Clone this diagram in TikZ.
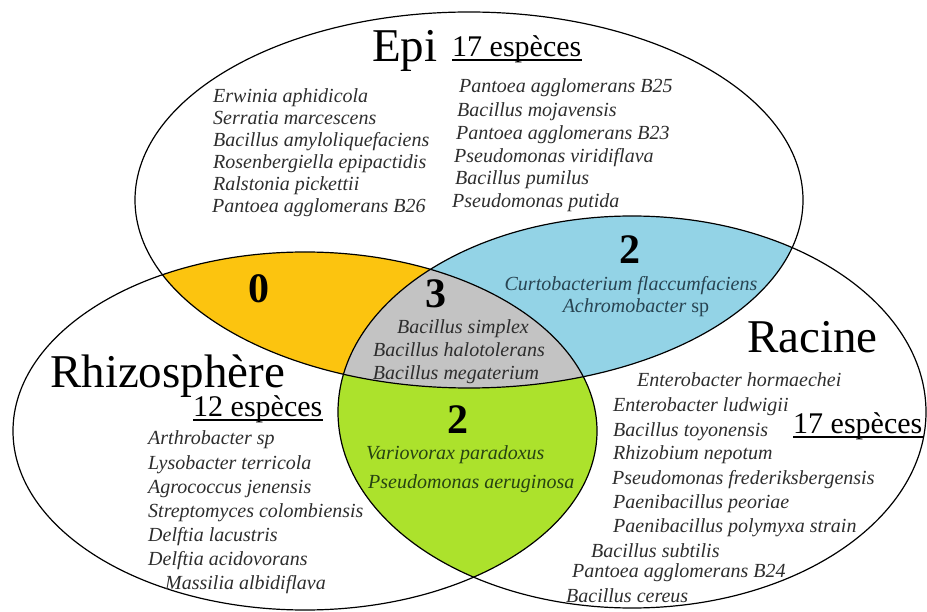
\documentclass[tikz,border=0pt]{standalone}
\usepackage{fontspec}
\setmainfont{Liberation Serif}
\definecolor{yellowc}{RGB}{252,196,15}
\definecolor{bluec}{RGB}{147,211,230}
\definecolor{greyc}{RGB}{195,195,195}
\definecolor{greenc}{RGB}{172,226,44}
\definecolor{txtc}{RGB}{45,45,45}
\definecolor{bluetxt}{RGB}{40,68,82}
\definecolor{greentxt}{RGB}{38,66,18}
\tikzset{
  lst/.style={font=\fontsize{20}{22}\selectfont\itshape, text=txtc, inner sep=0pt, anchor=base west},
  lstc/.style={font=\fontsize{20}{22}\selectfont\itshape, text=txtc, inner sep=0pt, anchor=base},
  ttl/.style={font=\fontsize{47}{50}\selectfont, inner sep=0pt, anchor=base west},
  cnt/.style={font=\fontsize{30}{32}\selectfont, inner sep=0pt, anchor=base west},
  num/.style={font=\fontsize{42}{44}\selectfont\bfseries, inner sep=0pt, anchor=center},
  ring/.style={draw=black, line width=1.2pt},
  uline/.style={line width=1.2pt}
}
\def\epipath{(469,200) ellipse [x radius=334, y radius=188]}
\def\rhizopath{(305,431) ellipse [x radius=292, y radius=179]}
\def\racinepath{(632,412) ellipse [x radius=294, y radius=196]}
\begin{document}
\begin{tikzpicture}[x=1pt,y=-1pt]
\useasboundingbox (0,0) rectangle (927,612);
% region fills
\begin{scope}\clip \epipath; \fill[yellowc] \rhizopath; \end{scope}
\begin{scope}\clip \epipath; \fill[bluec] \racinepath; \end{scope}
\begin{scope}\clip \rhizopath; \fill[greenc] \racinepath; \end{scope}
\begin{scope}\clip \epipath; \clip \rhizopath; \fill[greyc] \racinepath; \end{scope}
% outlines
\draw[ring] \epipath;
\draw[ring] \rhizopath;
\draw[ring] \racinepath;

% Epi
\node[ttl] (epi) at (372,62) {Epi};
\node[cnt] (epin) at (452,57) {17 espèces};
\draw[uline] ([yshift=-3pt]epin.base west) -- ([yshift=-3pt]epin.base east);
\node[lst] (e1) at (213,103) {Erwinia aphidicola};
\node[lst] (e2) at (213,125) {Serratia marcescens};
\node[lst] (e3) at (213,147) {Bacillus amyloliquefaciens};
\node[lst] (e4) at (213,169) {Rosenbergiella epipactidis};
\node[lst] (e5) at (213,191) {Ralstonia pickettii};
\node[lst] (e6) at (212,213) {Pantoea agglomerans B26};
\node[lst] (e7) at (459,93) {Pantoea agglomerans B25};
\node[lst] (e8) at (457,117) {Bacillus mojavensis};
\node[lst] (e9) at (456,140) {Pantoea agglomerans B23};
\node[lst] (e10) at (454,163) {Pseudomonas viridiflava};
\node[lst] (e11) at (455,185) {Bacillus pumilus};
\node[lst] (e12) at (452,208) {Pseudomonas putida};

% intersections
\node[num] (n0) at (259,289) {0};
\node[num] (n3) at (436,294) {3};
\node[lstc] (g1) at (463,334) {Bacillus simplex};
\node[lstc] (g2) at (459,357) {Bacillus halotolerans};
\node[lstc] (g3) at (456,380) {Bacillus megaterium};
\node[num] (nb) at (630,250) {2};
\node[lstc, text=bluetxt] (b1) at (631,291) {Curtobacterium flaccumfaciens};
\node[lstc, text=bluetxt] (b2) at (636,313) {Achromobacter {\upshape sp}};
\node[num] (ng) at (458,420) {2};
\node[lst, text=greentxt] (v1) at (366,459) {Variovorax paradoxus};
\node[lst, text=greentxt] (v2) at (368,488) {Pseudomonas aeruginosa};

% Rhizosphere
\node[ttl] (rhizo) at (50,388) {Rhizosphère};
\node[cnt] (rhizon) at (193,417) {12 espèces};
\draw[uline] ([yshift=-3pt]rhizon.base west) -- ([yshift=-3pt]rhizon.base east);
\node[lst] (r1) at (148,445) {Arthrobacter sp};
\node[lst] (r2) at (148,469) {Lysobacter terricola};
\node[lst] (r3) at (148,493) {Agrococcus jenensis};
\node[lst] (r4) at (148,517) {Streptomyces colombiensis};
\node[lst] (r5) at (148,541) {Delftia lacustris};
\node[lst] (r6) at (148,565) {Delftia acidovorans};
\node[lst] (r7) at (165,589) {Massilia albidiflava};

% Racine
\node[ttl] (racine) at (747,353) {Racine};
\node[cnt] (racinen) at (793,434) {17 espèces};
\draw[uline] ([yshift=-3pt]racinen.base west) -- ([yshift=-3pt]racinen.base east);
\node[lst] (c1) at (637,387) {Enterobacter hormaechei};
\node[lst] (c2) at (613,411) {Enterobacter ludwigii};
\node[lst] (c3) at (613,436) {Bacillus toyonensis};
\node[lst] (c4) at (613,460) {Rhizobium nepotum};
\node[lst] (c5) at (612,484) {Pseudomonas frederiksbergensis};
\node[lst] (c6) at (613,508) {Paenibacillus peoriae};
\node[lst] (c7) at (613,532) {Paenibacillus polymyxa strain};
\node[lst] (c8) at (591,557) {Bacillus subtilis};
\node[lst] (c9) at (572,577) {Pantoea agglomerans B24};
\node[lst] (c10) at (566,602) {Bacillus cereus};
\end{tikzpicture}
\end{document}
